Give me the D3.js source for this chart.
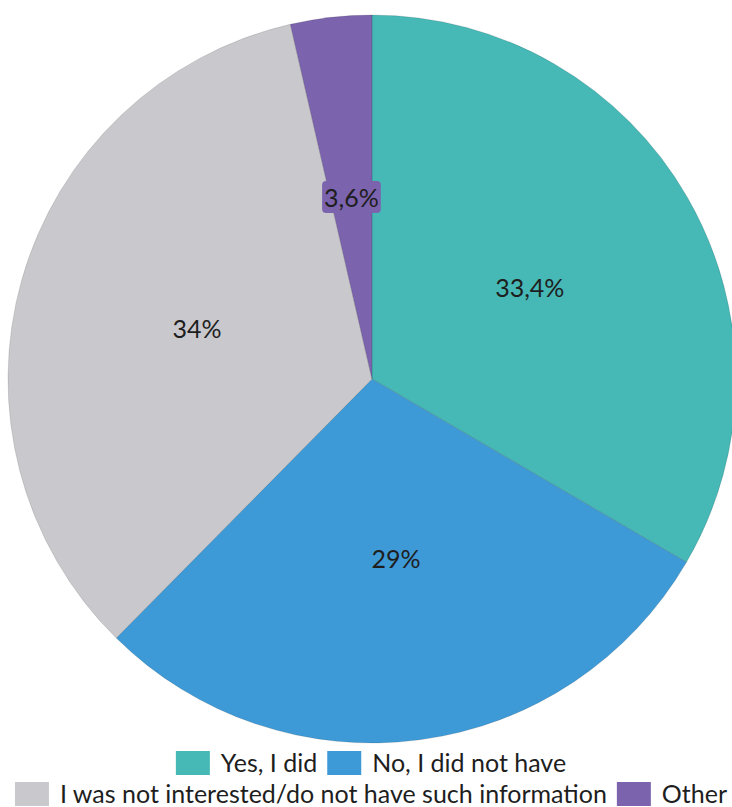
<!DOCTYPE html>
<html>
<head>
<meta charset="utf-8">
<script src="https://cdn.jsdelivr.net/npm/d3@7"></script>
<style>
  body { margin: 0; background: #fff; }
  text { font-family: Lato, "Open Sans", sans-serif; }
</style>
</head>
<body>
<div id="chart"></div>
<script>
var categories = ["Yes, I did", "No, I did not have", "I was not interested/do not have such information", "Other"],
    values = [33.4, 29, 34, 3.6],
    valueLabels = ["33,4%", "29%", "34%", "3,6%"],
    colors = ["#46b8b6", "#3e9ad6", "#c9c9cd", "#7b63ad"],
    legendRows = [[0, 1], [2, 3]];

var W = 732, H = 807;
var cx = 372, cy = 379, R = 364;

var svg = d3.select("#chart").append("svg")
    .attr("width", W)
    .attr("height", H);

var pie = d3.pie().sort(null).value(function (d) { return d; });
var arcs = pie(values);

var arc = d3.arc().innerRadius(0).outerRadius(R);
var labelArc = d3.arc().innerRadius(R * 0.5).outerRadius(R * 0.5);

var g = svg.append("g").attr("transform", "translate(" + cx + "," + cy + ")");

g.selectAll("path")
    .data(arcs)
    .enter().append("path")
    .attr("d", arc)
    .attr("fill", function (d, i) { return colors[i]; })
    .attr("stroke", "rgba(0,0,0,0.12)")
    .attr("stroke-width", 1);

// labels
var labels = g.selectAll("g.lbl")
    .data(arcs)
    .enter().append("g")
    .attr("class", "lbl")
    .attr("transform", function (d) { return "translate(" + labelArc.centroid(d) + ")"; });

labels.each(function (d, i) {
    var sel = d3.select(this);
    var t = sel.append("text")
        .attr("text-anchor", "middle")
        .attr("dy", "0.35em")
        .attr("font-size", 25)
        .attr("fill", "#1e1e1e")
        .text(valueLabels[i]);
    // the small slice gets a box behind its label
    if (values[i] < 5) {
        var bb = t.node().getBBox();
        sel.insert("rect", "text")
            .attr("x", bb.x - 2)
            .attr("y", bb.y - 1)
            .attr("width", bb.width + 4)
            .attr("height", bb.height + 2)
            .attr("rx", 4)
            .attr("fill", colors[i]);
    }
});

// legend
var sqW = 34, sqH = 24, gapText = 11, gapItem = 10, fs = 25;
var rowBase = [772, 803];
var legendCenter = 371;

legendRows.forEach(function (row, r) {
    var lg = svg.append("g");
    var x = 0;
    row.forEach(function (ci) {
        lg.append("rect")
            .attr("x", x)
            .attr("y", rowBase[r] - 21)
            .attr("width", sqW)
            .attr("height", sqH)
            .attr("fill", colors[ci]);
        var t = lg.append("text")
            .attr("x", x + sqW + gapText)
            .attr("y", rowBase[r])
            .attr("font-size", fs)
            .attr("fill", "#1e1e1e")
            .text(categories[ci]);
        x += sqW + gapText + t.node().getComputedTextLength() + gapItem;
    });
    var total = x - gapItem;
    lg.attr("transform", "translate(" + (legendCenter - total / 2) + ",0)");
});
</script>
</body>
</html>
